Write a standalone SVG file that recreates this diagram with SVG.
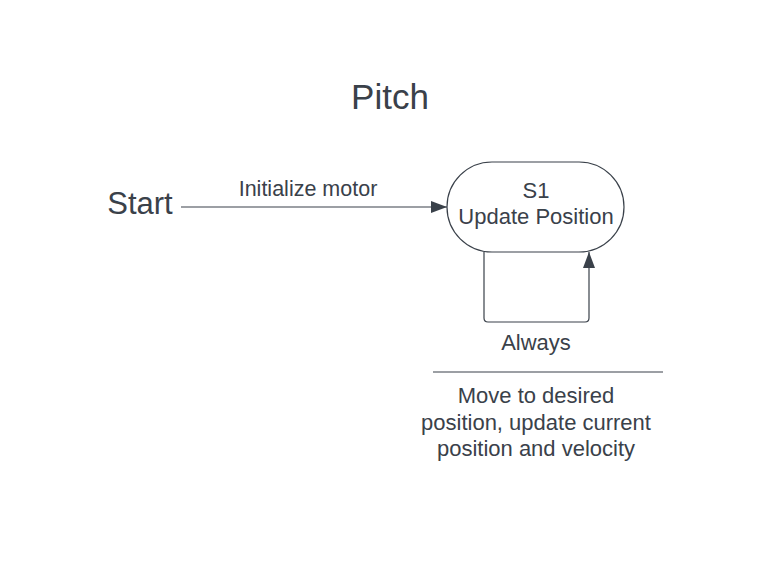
<svg xmlns="http://www.w3.org/2000/svg" width="766" height="566" viewBox="0 0 766 566">
<style>
text{font-family:"Liberation Sans",Arial,sans-serif;fill:#3a414a;text-anchor:middle}
.edge{fill:none;stroke:#3a414a;stroke-width:1.2}
</style>
<defs>
<marker id="ah" viewBox="0 0 16 12" refX="16" refY="6" markerWidth="16" markerHeight="12" markerUnits="userSpaceOnUse" orient="auto">
<path d="M0,0 L16,6 L0,12 Z" fill="#3a414a"/>
</marker>
</defs>
<rect width="766" height="566" fill="#ffffff"/>
<text x="390" y="109" font-size="35">Pitch</text>
<g id="start"><text x="140" y="214" font-size="31">Start</text></g>
<g id="s1">
<rect x="447" y="162" width="177" height="90" rx="45" ry="45" fill="#ffffff" stroke="#3a414a" stroke-width="1.2"/>
<text x="536" y="198" font-size="22">S1</text>
<text x="536" y="224" font-size="22">Update Position</text>
</g>
<g id="connectors">
<path class="edge" d="M181,207 L447,207" marker-end="url(#ah)"/>
<text x="308" y="196" font-size="21.5">Initialize motor</text>
<path class="edge" d="M484,252 L484,318 Q484,322 488,322 L585,322 Q589,322 589,318 L589,252" marker-end="url(#ah)"/>
<text x="536" y="350" font-size="22">Always</text>
<line x1="433" y1="372" x2="663" y2="372" stroke="#3a414a" stroke-width="1.2"/>
<text x="536" y="403" font-size="22">Move to desired</text>
<text x="536" y="430" font-size="22">position, update current</text>
<text x="536" y="456" font-size="22">position and velocity</text>
</g>
</svg>
